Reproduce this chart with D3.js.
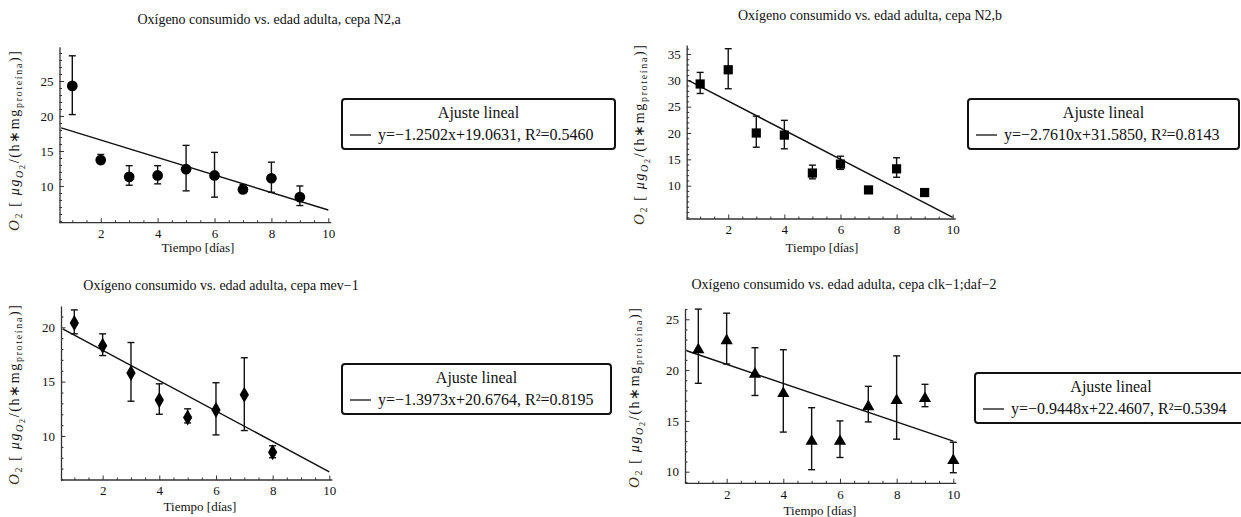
<!DOCTYPE html>
<html>
<head>
<meta charset="utf-8">
<script src="https://cdn.jsdelivr.net/npm/d3@7"></script>
<style>
  body { margin: 0; background: #fff; }
  text { font-family: "Liberation Serif", "Times New Roman", serif; fill: #111; }
</style>
</head>
<body>
<script>
// ---- data ----
var days_n2a = [1, 2, 3, 4, 5, 6, 7, 8, 9];
var o2_n2a   = [24.3, 13.7, 11.3, 11.5, 12.4, 11.5, 9.5, 11.1, 8.4];
var lo_n2a   = [20.2, 13.2, 10.1, 10.3, 9.3, 8.4, 9.1, 9.1, 7.2];
var hi_n2a   = [28.6, 14.5, 12.9, 12.9, 15.8, 14.8, 10.2, 13.4, 10.0];

var days_n2b = [1, 2, 3, 4, 5, 6, 7, 8, 9];
var o2_n2b   = [29.3, 32.0, 20.0, 19.6, 12.4, 14.1, 9.2, 13.2, 8.7];
var lo_n2b   = [27.5, 28.4, 17.3, 17.0, 11.3, 13.1, 8.9, 11.6, 8.4];
var hi_n2b   = [31.5, 36.0, 23.2, 22.4, 13.9, 15.6, 9.6, 15.3, 9.0];

var days_mev = [1, 2, 3, 4, 5, 6, 7, 8];
var o2_mev   = [20.4, 18.3, 15.8, 13.3, 11.7, 12.4, 13.8, 8.5];
var lo_mev   = [19.4, 17.4, 13.2, 12.0, 11.2, 10.1, 10.5, 8.0];
var hi_mev   = [21.6, 19.4, 18.6, 14.8, 12.5, 14.9, 17.2, 9.1];

var days_clk = [1, 2, 3, 4, 5, 6, 7, 8, 9, 10];
var o2_clk   = [22.0, 22.9, 19.6, 17.7, 13.0, 13.0, 16.4, 17.0, 17.2, 11.1];
var lo_clk   = [18.7, 20.6, 17.5, 13.9, 10.2, 11.4, 14.9, 13.2, 16.4, 9.9];
var hi_clk   = [26.0, 25.6, 22.2, 22.0, 16.3, 15.0, 18.4, 21.4, 18.6, 12.9];

// linear fits (slope, intercept) and legend text
var fits = [[-1.2502, 19.0631], [-2.7610, 31.5850], [-1.3973, 20.6764], [-0.9448, 22.4607]];
var fitLabels = [
  "y=\u22121.2502x+19.0631, R\u00b2=0.5460",
  "y=\u22122.7610x+31.5850, R\u00b2=0.8143",
  "y=\u22121.3973x+20.6764, R\u00b2=0.8195",
  "y=\u22120.9448x+22.4607, R\u00b2=0.5394"
];
var titles = [
  "Ox\u00edgeno consumido vs. edad adulta, cepa N2,a",
  "Ox\u00edgeno consumido vs. edad adulta, cepa N2,b",
  "Ox\u00edgeno consumido vs. edad adulta, cepa mev\u22121",
  "Ox\u00edgeno consumido vs. edad adulta, cepa clk\u22121;daf\u22122"
];
var xMajor = [2, 4, 6, 8, 10];
var yMajor = [[10, 15, 20, 25], [10, 15, 20, 25, 30, 35], [10, 15, 20], [10, 15, 20, 25]];

// ---- layout ----
var panels = [
  { days: days_n2a, v: o2_n2a, lo: lo_n2a, hi: hi_n2a, marker: 'circle',
    xd: [0.55, 10], xr: [59.5, 328.3], yd: [4.75, 29.9], yr: [222.7, 46.7],
    title: [269, 24], xlab: [198, 252], ylab: [19, 141], legend: [342, 99, 273, 50] },
  { days: days_n2b, v: o2_n2b, lo: lo_n2b, hi: hi_n2b, marker: 'square',
    xd: [0.52, 10], xr: [686.7, 952.7], yd: [3.68, 36.7], yr: [219, 45],
    title: [870, 20], xlab: [822, 252], ylab: [644, 135], legend: [968, 99, 271, 50] },
  { days: days_mev, v: o2_mev, lo: lo_mev, hi: hi_mev, marker: 'diamond',
    xd: [0.53, 10], xr: [61, 329.3], yd: [5.95, 21.96], yr: [480, 306],
    title: [221, 290], xlab: [200, 511], ylab: [19, 395], legend: [342, 364, 269, 50] },
  { days: days_clk, v: o2_clk, lo: lo_clk, hi: hi_clk, marker: 'triangle',
    xd: [0.53, 10], xr: [685, 953.3], yd: [8.86, 26.08], yr: [483.3, 308.3],
    title: [844, 289], xlab: [820, 515], ylab: [639, 398], legend: [975, 373, 272, 50] }
];

var svg = d3.select('body').append('svg')
    .attr('width', 1241)
    .attr('height', 517);

var symbols = {
  circle: d3.symbol().type(d3.symbolCircle).size(90),
  square: d3.symbol().type(d3.symbolSquare).size(85),
  diamond: d3.symbol().type(d3.symbolDiamond).size(75),
  triangle: d3.symbol().type(d3.symbolTriangle).size(65)
};

panels.forEach(function(p, i) {
  var x = d3.scaleLinear().domain(p.xd).range(p.xr);
  var y = d3.scaleLinear().domain(p.yd).range(p.yr);
  var g = svg.append('g');

  // minor ticks
  var xMinor = d3.range(1, 10, 0.5).filter(function(t) { return xMajor.indexOf(t) < 0; });
  var yMinor = d3.range(Math.ceil(p.yd[0]), p.yd[1], 1).filter(function(t) { return yMajor[i].indexOf(t) < 0; });

  g.append('g')
      .attr('transform', 'translate(0,' + p.yr[0] + ')')
      .call(d3.axisBottom(x).tickValues(xMinor).tickSize(-2.5).tickFormat(''))
      .call(function(a) { a.select('.domain').remove(); });
  g.append('g')
      .attr('transform', 'translate(' + p.xr[0] + ',0)')
      .call(d3.axisLeft(y).tickValues(yMinor).tickSize(-2.5).tickFormat(''))
      .call(function(a) { a.select('.domain').remove(); });

  var xAxis = g.append('g')
      .attr('transform', 'translate(0,' + p.yr[0] + ')')
      .call(d3.axisBottom(x).tickValues(xMajor).tickSize(-4.5).tickPadding(6).tickSizeOuter(0));
  var yAxis = g.append('g')
      .attr('transform', 'translate(' + p.xr[0] + ',0)')
      .call(d3.axisLeft(y).tickValues(yMajor[i]).tickSize(-4.5).tickPadding(6).tickSizeOuter(0));

  [xAxis, yAxis].forEach(function(a) {
    a.selectAll('text').style('font-family', '"Liberation Serif", serif').style('font-size', '13px').attr('fill', '#111');
  });
  g.selectAll('.tick line').attr('stroke', '#333').attr('stroke-width', 1);
  g.selectAll('.domain').attr('stroke', '#333').attr('stroke-width', 1.3);
  // extend axis lines slightly
  xAxis.select('.domain').attr('d', 'M' + p.xr[0] + ',0H' + (p.xr[1] + 3));

  // fit line
  var f = fits[i];
  var x0 = p.xd[0] + 0.06;
  g.append('line')
      .attr('x1', x(x0)).attr('y1', y(f[0] * x0 + f[1]))
      .attr('x2', x(10)).attr('y2', y(f[0] * 10 + f[1]))
      .attr('stroke', '#111').attr('stroke-width', 1.5);

  // error bars
  var eb = g.append('g').selectAll('g')
      .data(p.days.map(function(d, k) { return { d: d, v: p.v[k], lo: p.lo[k], hi: p.hi[k] }; }))
      .enter().append('g');
  eb.append('line')
      .attr('x1', function(d) { return x(d.d); }).attr('x2', function(d) { return x(d.d); })
      .attr('y1', function(d) { return y(d.lo); }).attr('y2', function(d) { return y(d.hi); })
      .attr('stroke', '#111').attr('stroke-width', 1.4);
  ['lo', 'hi'].forEach(function(k) {
    eb.append('line')
        .attr('x1', function(d) { return x(d.d) - 3.5; }).attr('x2', function(d) { return x(d.d) + 3.5; })
        .attr('y1', function(d) { return y(d[k]); }).attr('y2', function(d) { return y(d[k]); })
        .attr('stroke', '#111').attr('stroke-width', 1.4);
  });
  eb.append('path')
      .attr('d', symbols[p.marker])
      .attr('transform', function(d) { return 'translate(' + x(d.d) + ',' + y(d.v) + ')'; })
      .attr('fill', '#000');

  // title
  g.append('text')
      .attr('x', p.title[0]).attr('y', p.title[1])
      .attr('text-anchor', 'middle')
      .style('font-size', '14px')
      .text(titles[i]);

  // x label
  g.append('text')
      .attr('x', p.xlab[0]).attr('y', p.xlab[1])
      .attr('text-anchor', 'middle')
      .style('font-size', '13px')
      .text('Tiempo [d\u00edas]');

  // y label
  var yl = g.append('text')
      .attr('transform', 'translate(' + p.ylab[0] + ',' + p.ylab[1] + ') rotate(-90)')
      .attr('text-anchor', 'middle')
      .attr('textLength', 180)
      .attr('lengthAdjust', 'spacing')
      .style('font-size', '14px');
  yl.append('tspan').style('font-style', 'italic').attr('fill', '#3a3015').style('font-size', '15px').text('O');
  yl.append('tspan').attr('dy', 3).style('font-size', '10px').attr('fill', '#3a3015').text('2');
  yl.append('tspan').attr('dy', -3).text(' [ ');
  yl.append('tspan').style('font-style', 'italic').text('\u03bcg');
  yl.append('tspan').attr('dy', 4).style('font-style', 'italic').style('font-size', '10px').text('O');
  yl.append('tspan').attr('dy', 2).style('font-size', '8px').text('2');
  yl.append('tspan').attr('dy', -6).text('/(h\u2217mg');
  yl.append('tspan').attr('dy', 3).style('font-size', '10px').text('prote\u00edna');
  yl.append('tspan').attr('dy', -3).text(')]');

  // legend
  var L = p.legend;
  var lg = g.append('g').attr('transform', 'translate(' + L[0] + ',' + L[1] + ')');
  lg.append('rect')
      .attr('width', L[2]).attr('height', L[3])
      .attr('rx', 3).attr('ry', 3)
      .attr('fill', '#fff').attr('stroke', '#111').attr('stroke-width', 2);
  lg.append('text')
      .attr('x', L[2] / 2).attr('y', 19)
      .attr('text-anchor', 'middle')
      .style('font-size', '16px')
      .text('Ajuste lineal');
  lg.append('line')
      .attr('x1', 8).attr('x2', 29).attr('y1', 36).attr('y2', 36)
      .attr('stroke', '#111').attr('stroke-width', 1.3);
  lg.append('text')
      .attr('x', 36).attr('y', 41)
      .style('font-size', '16px')
      .text(fitLabels[i]);
});
</script>
</body>
</html>
